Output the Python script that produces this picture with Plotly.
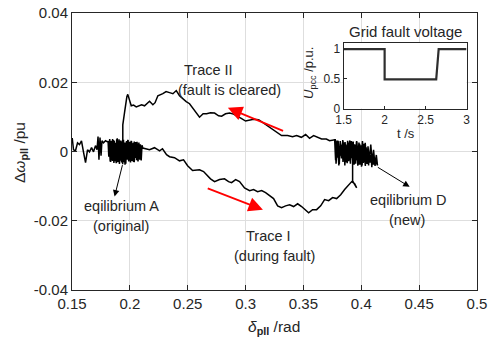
import plotly.graph_objects as go

# ---------------- data ----------------
tail_x = [0.1502, 0.1513, 0.1530, 0.1548, 0.1565, 0.1582, 0.1599, 0.1617, 0.1634, 0.1651,
          0.1669, 0.1686, 0.1703, 0.1716, 0.1725, 0.1733, 0.1742, 0.1751, 0.1759, 0.1772,
          0.1790, 0.1807]
tail_y = [0.0039, 0.0005, 0.0002, 0.0025, 0.0020, 0.0031, -0.0001, -0.0032, 0.0005, -0.0001,
          0.0011, -0.0001, 0.0017, 0.0005, 0.0043, -0.0024, 0.0040, -0.0012, 0.0031, 0.0025,
          0.0031, 0.0028]

eqA_x = [0.1812, 0.1818, 0.1825, 0.1831, 0.1838, 0.1845, 0.1851, 0.1858, 0.1865, 0.1871,
         0.1878, 0.1885, 0.1891, 0.1898, 0.1905, 0.1911, 0.1918, 0.1925, 0.1931, 0.1938,
         0.1945, 0.1951, 0.1958, 0.1965, 0.1971, 0.1978, 0.1985, 0.1991, 0.1998, 0.2005,
         0.2011, 0.2018, 0.2025, 0.2031, 0.2038, 0.2045, 0.2051, 0.2058, 0.2065, 0.2071,
         0.2078, 0.2085, 0.2091, 0.2098, 0.2105, 0.2111]
eqA_y = [0.0030, -0.0015, 0.0034, -0.0020, 0.0028, -0.0025, 0.0036, -0.0018, 0.0031, -0.0028,
         0.0025, -0.0022, 0.0038, -0.0030, 0.0027, -0.0033, 0.0032, -0.0026, 0.0029, -0.0037,
         0.0034, -0.0031, 0.0026, -0.0035, 0.0030, -0.0024, 0.0033, -0.0029, 0.0028, -0.0021,
         0.0031, -0.0027, 0.0024, -0.0030, 0.0029, -0.0019, 0.0027, -0.0025, 0.0023, -0.0028,
         0.0026, -0.0022, 0.0021, -0.0026, 0.0018, 0.0010]

trace1_x = [0.2112, 0.2170, 0.2213, 0.2257, 0.2282, 0.2317, 0.2343, 0.2386, 0.2429, 0.2464,
            0.2499, 0.2542, 0.2576, 0.2602, 0.2637, 0.2663, 0.2697, 0.2732, 0.2775, 0.2818,
            0.2853, 0.2879, 0.2914, 0.2948, 0.2991, 0.3035, 0.3069, 0.3104, 0.3139, 0.3173,
            0.3208, 0.3242, 0.3277, 0.3311, 0.3346, 0.3381, 0.3415, 0.3450, 0.3484, 0.3519,
            0.3545, 0.3579, 0.3614, 0.3649, 0.3683, 0.3718, 0.3752, 0.3787, 0.3822, 0.3856,
            0.3891, 0.3917, 0.3943, 0.3960, 0.3925, 0.3925]
trace1_y = [0.0010, 0.0005, 0.0011, 0.0002, 0.0008, -0.0009, -0.0015, -0.0018, -0.0027, -0.0024,
            -0.0041, -0.0055, -0.0053, -0.0053, -0.0058, -0.0067, -0.0079, -0.0087, -0.0081, -0.0079,
            -0.0087, -0.0090, -0.0081, -0.0087, -0.0105, -0.0113, -0.0110, -0.0116, -0.0113, -0.0119,
            -0.0128, -0.0136, -0.0157, -0.0162, -0.0157, -0.0154, -0.0159, -0.0151, -0.0159, -0.0171,
            -0.0177, -0.0168, -0.0168, -0.0157, -0.0139, -0.0142, -0.0133, -0.0136, -0.0125, -0.0110,
            -0.0096, -0.0087, -0.0093, -0.0105, -0.0085, -0.0030]

eqD_x = [0.3930, 0.3937, 0.3944, 0.3951, 0.3958, 0.3965, 0.3972, 0.3979, 0.3986, 0.3993,
         0.4000, 0.4007, 0.4014, 0.4021, 0.4028, 0.4035, 0.4042, 0.4049, 0.4056, 0.4063,
         0.4070, 0.4077, 0.4084, 0.4091, 0.4098, 0.4105, 0.4112, 0.4119, 0.4126, 0.4133,
         0.4140,
         0.4130, 0.4118, 0.4106, 0.4094, 0.4082, 0.4070, 0.4058, 0.4046, 0.4034, 0.4022,
         0.4010, 0.3998, 0.3986, 0.3974, 0.3962, 0.3950, 0.3938, 0.3926, 0.3914, 0.3902,
         0.3890, 0.3878, 0.3866, 0.3854, 0.3842, 0.3830, 0.3818, 0.3806, 0.3794, 0.3782,
         0.3775, 0.3770]
eqD_y = [0.0025, -0.0030, 0.0020, -0.0035, 0.0028, -0.0025, 0.0015, -0.0038, 0.0022, -0.0030,
         0.0010, -0.0040, 0.0018, -0.0028, 0.0005, -0.0042, 0.0012, -0.0035, 0.0000, -0.0040,
         -0.0005, -0.0032, -0.0010, -0.0045, -0.0008, -0.0038, -0.0015, -0.0042, -0.0020, -0.0035,
         -0.0040,
         -0.0010, -0.0038, 0.0005, -0.0030, 0.0020, -0.0025, 0.0015, -0.0035, 0.0025, -0.0020,
         0.0030, -0.0028, 0.0022, -0.0032, 0.0028, -0.0024, 0.0018, -0.0030, 0.0030, -0.0022,
         0.0026, -0.0034, 0.0020, -0.0026, 0.0030, -0.0020, 0.0025, -0.0040, 0.0032, -0.0035,
         0.0034, 0.0034]

# further oscillation around equilibrium D
eqD2_x = [0.3778, 0.3786, 0.3794, 0.3802, 0.3810, 0.3818, 0.3826, 0.3834, 0.3842, 0.3850,
          0.3858, 0.3866, 0.3874, 0.3882, 0.3890, 0.3898, 0.3906, 0.3914, 0.3922, 0.3930,
          0.3938, 0.3946, 0.3954, 0.3962, 0.3970, 0.3978, 0.3986, 0.3994, 0.4002, 0.4010,
          0.4018, 0.4026, 0.4034, 0.4042, 0.4050, 0.4058,
          0.4050, 0.4040, 0.4030, 0.4020, 0.4010, 0.4000, 0.3990, 0.3980, 0.3970, 0.3960,
          0.3950, 0.3940, 0.3930, 0.3920, 0.3910, 0.3900, 0.3890, 0.3880, 0.3870, 0.3860,
          0.3850, 0.3840, 0.3830, 0.3820, 0.3810, 0.3800, 0.3790, 0.3780, 0.3770]
eqD2_y = [-0.0025, 0.0028, -0.0018, 0.0022, -0.0036, 0.0030, -0.0012, 0.0019, -0.0030, 0.0026,
          -0.0040, 0.0014, -0.0022, 0.0031, -0.0028, 0.0008, -0.0035, 0.0024, -0.0016, 0.0029,
          -0.0038, 0.0011, -0.0026, 0.0020, -0.0041, 0.0006, -0.0030, 0.0016, -0.0044, 0.0002,
          -0.0033, 0.0010, -0.0039, -0.0004, -0.0028, 0.0005,
          -0.0036, 0.0012, -0.0030, 0.0022, -0.0024, 0.0018, -0.0038, 0.0026, -0.0015, 0.0030,
          -0.0027, 0.0021, -0.0033, 0.0028, -0.0019, 0.0032, -0.0025, 0.0016, -0.0031, 0.0027,
          -0.0022, 0.0033, -0.0018, 0.0024, -0.0029, 0.0031, -0.0014, 0.0030, 0.0034]

trace2_x = [0.3770, 0.3726, 0.3698, 0.3657, 0.3623, 0.3588, 0.3553, 0.3519, 0.3482, 0.3441,
            0.3406, 0.3363, 0.3311, 0.3277, 0.3251, 0.3216, 0.3182, 0.3147, 0.3113, 0.3069,
            0.3035, 0.3000, 0.2966, 0.2931, 0.2896, 0.2862, 0.2827, 0.2793, 0.2767, 0.2732,
            0.2697, 0.2663, 0.2633, 0.2602, 0.2576, 0.2550, 0.2516, 0.2487, 0.2455, 0.2429,
            0.2401, 0.2372, 0.2343, 0.2313, 0.2285, 0.2257, 0.2242, 0.2218, 0.2199, 0.2170,
            0.2148, 0.2127, 0.2101, 0.2075, 0.2055, 0.2032, 0.2012, 0.1982, 0.1974, 0.1954,
            0.1939, 0.1939]
trace2_y = [0.0034, 0.0031, 0.0036, 0.0036, 0.0040, 0.0046, 0.0038, 0.0049, 0.0041, 0.0046,
            0.0043, 0.0046, 0.0046, 0.0054, 0.0060, 0.0069, 0.0075, 0.0083, 0.0092, 0.0093,
            0.0090, 0.0088, 0.0095, 0.0101, 0.0108, 0.0111, 0.0109, 0.0102, 0.0103, 0.0111,
            0.0112, 0.0109, 0.0109, 0.0099, 0.0111, 0.0126, 0.0138, 0.0144, 0.0155, 0.0161,
            0.0176, 0.0167, 0.0170, 0.0173, 0.0167, 0.0164, 0.0161, 0.0141, 0.0135, 0.0145,
            0.0138, 0.0132, 0.0135, 0.0132, 0.0129, 0.0134, 0.0132, 0.0165, 0.0158, 0.0112,
            0.0077, 0.0005]

# second pass through equilibrium A after the fault is cleared
eqA2_x = [0.1930, 0.1922, 0.1914, 0.1906, 0.1898, 0.1890, 0.1882, 0.1874, 0.1866, 0.1858,
          0.1850, 0.1842, 0.1834, 0.1826, 0.1818, 0.1822, 0.1830, 0.1838, 0.1846, 0.1854,
          0.1862, 0.1870, 0.1878, 0.1886, 0.1894, 0.1902, 0.1910, 0.1918, 0.1926, 0.1934,
          0.1942, 0.1950, 0.1958, 0.1966, 0.1974, 0.1982, 0.1990, 0.1998, 0.2006, 0.2014,
          0.2022, 0.2030, 0.2038, 0.2046, 0.2054, 0.2062, 0.2070, 0.2078, 0.2086, 0.2094]
eqA2_y = [-0.0032, 0.0022, -0.0028, 0.0035, -0.0010, 0.0026, -0.0034, 0.0015, -0.0022, 0.0033,
          -0.0027, 0.0019, -0.0030, 0.0036, -0.0012, 0.0024, -0.0029, 0.0031, -0.0016, 0.0027,
          -0.0033, 0.0012, -0.0024, 0.0035, -0.0031, 0.0020, -0.0036, 0.0029, -0.0014, 0.0032,
          -0.0025, 0.0018, -0.0038, 0.0026, -0.0020, 0.0034, -0.0027, 0.0015, -0.0032, 0.0030,
          -0.0018, 0.0025, -0.0031, 0.0022, -0.0015, 0.0028, -0.0029, 0.0016, -0.0024, 0.0012]

# inset: grid fault voltage
t_s = [1.5, 2.0, 2.0, 2.63, 2.66, 3.0]
u_pcc = [1.0, 1.0, 0.49, 0.49, 1.0, 1.0]

x_tickvals = [0.15, 0.2, 0.25, 0.3, 0.35, 0.4, 0.45, 0.5]
x_ticktext = ["0.15", "0.2", "0.25", "0.3", "0.35", "0.4", "0.45", "0.5"]
y_tickvals = [-0.04, -0.02, 0, 0.02, 0.04]
y_ticktext = ["-0.04", "-0.02", "0", "0.02", "0.04"]
ix_tickvals = [1.5, 2, 2.5, 3]
ix_ticktext = ["1.5", "2", "2.5", "3"]
iy_tickvals = [0, 0.5, 1]
iy_ticktext = ["0", "0.5", "1"]

# ---------------- layout helpers ----------------
W, H = 490, 346
ML, MR, MT, MB = 72, 13, 13, 56
PW, PH = W - ML - MR, H - MT - MB


def px(xp):
    return (xp - ML) / PW


def py(yp):
    return (H - MB - yp) / PH


FONT = "Liberation Sans, Arial, sans-serif"
TXT = "#262626"

all_x = tail_x + eqA_x + trace1_x + eqD_x + eqD2_x + trace2_x + eqA2_x
all_y = tail_y + eqA_y + trace1_y + eqD_y + eqD2_y + trace2_y + eqA2_y

fig = go.Figure()
fig.add_trace(go.Scatter(x=all_x, y=all_y, mode="lines",
                         line=dict(color="black", width=1.5),
                         xaxis="x", yaxis="y", showlegend=False))
fig.add_trace(go.Scatter(x=t_s, y=u_pcc, mode="lines",
                         line=dict(color="#2e2e2e", width=2.2),
                         xaxis="x2", yaxis="y2", showlegend=False))

axis_common = dict(showline=True, linecolor=TXT, linewidth=1, mirror="ticks",
                   ticks="inside", ticklen=5, tickcolor=TXT, automargin=False,
                   zeroline=False, tickfont=dict(family=FONT, size=15, color=TXT))
inset_common = dict(showgrid=False, showline=True, linecolor=TXT, linewidth=1,
                    mirror=True, ticks="inside", ticklen=3, tickcolor=TXT,
                    zeroline=False, automargin=False,
                    tickfont=dict(family=FONT, size=12, color=TXT))

inset_dom_x = [px(343.7), px(466.5)]
inset_dom_y = [py(108.5), py(42.7)]

fig.update_layout(
    width=W, height=H,
    margin=dict(l=ML, r=MR, t=MT, b=MB, autoexpand=False),
    paper_bgcolor="white", plot_bgcolor="white",
    xaxis=dict(range=[0.15, 0.5], tickvals=x_tickvals, ticktext=x_ticktext,
               showgrid=True, gridcolor="#dedede", gridwidth=1, **axis_common),
    yaxis=dict(range=[-0.04, 0.04], tickvals=y_tickvals, ticktext=y_ticktext,
               showgrid=True, gridcolor="#dedede", gridwidth=1, **axis_common),
    xaxis2=dict(domain=inset_dom_x, anchor="y2", range=[1.5, 3],
                tickvals=ix_tickvals, ticktext=ix_ticktext, **inset_common),
    yaxis2=dict(domain=inset_dom_y, anchor="x2", range=[0, 1.11],
                tickvals=iy_tickvals, ticktext=iy_ticktext, **inset_common),
    shapes=[dict(type="rect", xref="x2 domain", yref="y2 domain",
                 x0=0, x1=1, y0=0, y1=1, fillcolor="white",
                 line=dict(width=0), layer="below")],
)

ann = []


def text(xp, yp, s, size=14.5, angle=0):
    ann.append(dict(x=px(xp), y=py(yp), xref="paper", yref="paper", text=s,
                    showarrow=False, textangle=angle,
                    font=dict(family=FONT, size=size, color=TXT),
                    xanchor="center", yanchor="middle"))


def arrow(x_head, y_head, x_tail, y_tail, color, width, head, size):
    ann.append(dict(x=x_head, y=y_head, ax=x_tail, ay=y_tail,
                    xref="x", yref="y", axref="x", ayref="y", text="",
                    showarrow=True, arrowhead=head, arrowsize=size,
                    arrowwidth=width, arrowcolor=color, standoff=0, startstandoff=0))


# annotation texts
text(208.7, 70, "Trace II")
text(229, 90, "(fault is cleared)")
text(268, 236.3, "Trace I")
text(274, 255.7, "(during fault)")
text(121.7, 206.3, "eqilibrium A")
text(121, 226.3, "(original)")
text(408.3, 199.7, "eqilibrium D")
text(407, 219.7, "(new)")

# arrows
arrow(0.2847, 0.0126, 0.3337, 0.0058, "red", 1.8, 2, 1.6)
arrow(0.3150, -0.0168, 0.2660, -0.0105, "red", 1.8, 2, 1.6)
arrow(0.1868, -0.0130, 0.1939, -0.0035, "black", 1.0, 2, 1.3)
arrow(0.4418, -0.0102, 0.4130, -0.0043, "black", 1.0, 2, 1.3)

# axis titles
text(274, 327, "<i>δ</i><sub><b>pll</b></sub> /rad", size=15.5)
text(20, 152, "Δ<i>ω</i><sub><b>pll</b></sub> /pu", size=15.5, angle=-90)

# inset titles
text(405, 31.7, "Grid fault voltage", size=15)
text(406, 133, "t /s", size=13)
text(309, 73, "<i>U</i><sub>pcc</sub> /p.u.", size=13, angle=-90)

fig.update_layout(annotations=ann)

fig.write_html("out.html")
